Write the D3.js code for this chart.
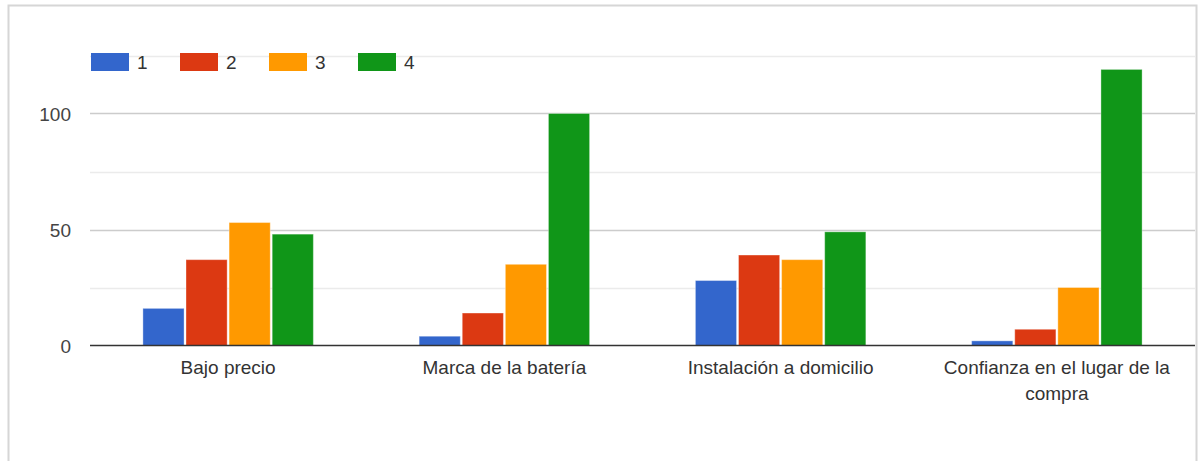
<!DOCTYPE html>
<html>
<head>
<meta charset="utf-8">
<script src="https://cdn.jsdelivr.net/npm/d3@7"></script>
<style>
  html, body { margin: 0; padding: 0; background: #fff; }
  svg { display: block; font-family: "Liberation Sans", Arial, sans-serif; }
</style>
</head>
<body>
<svg id="chart" width="1199" height="461"></svg>
<script>
// Categories and ranking counts (1 = least important, 4 = most important)
const categories = ["Bajo precio", "Marca de la batería", "Instalación a domicilio", "Confianza en el lugar de la compra"];
const seriesNames = ["1", "2", "3", "4"];
const series1 = [16, 4, 28, 2];
const series2 = [37, 14, 39, 7];
const series3 = [53, 35, 37, 25];
const series4 = [48, 100, 49, 119];
const colors = ["#3366cc", "#dc3912", "#ff9900", "#109618"];
const majorTicks = [0, 50, 100];
const minorTicks = [25, 75, 125];

const seriesValues = [series1, series2, series3, series4];
const rows = categories.map((c, i) => ({
  category: c,
  values: seriesNames.map((s, j) => ({ key: s, value: seriesValues[j][i], color: colors[j] }))
}));

const svg = d3.select("#chart");
const W = 1199, H = 461;
const plot = { left: 90, right: 1195, top: 55.5, bottom: 345.5 };

// Card frame (left, top, right edges)
svg.append("path")
  .attr("d", `M8.5,${H} V5.5 H1196.5 V${H}`)
  .attr("fill", "none")
  .attr("stroke", "#d6d6d6")
  .attr("stroke-width", 2);

const y = d3.scaleLinear().domain([0, 125]).range([plot.bottom, plot.top]);
const x0 = d3.scaleBand().domain(categories).range([plot.left, plot.right])
  .paddingInner(0.383).paddingOuter(0.1915);
const x1 = d3.scaleBand().domain(seriesNames).range([0, x0.bandwidth()])
  .paddingInner(0.045).paddingOuter(0);

// Gridlines
const grid = svg.append("g");
grid.selectAll("line.minor").data(minorTicks).join("line")
  .attr("class", "minor")
  .attr("x1", plot.left).attr("x2", plot.right)
  .attr("y1", d => Math.round(y(d)) + 0.5).attr("y2", d => Math.round(y(d)) + 0.5)
  .attr("stroke", "#ebebeb").attr("stroke-width", 1.5);
grid.selectAll("line.major").data(majorTicks.filter(d => d !== 0)).join("line")
  .attr("class", "major")
  .attr("x1", plot.left).attr("x2", plot.right)
  .attr("y1", d => Math.round(y(d)) + 0.5).attr("y2", d => Math.round(y(d)) + 0.5)
  .attr("stroke", "#cccccc").attr("stroke-width", 1.5);

// Y axis labels
const yAxis = d3.axisLeft(y).tickValues(majorTicks).tickSize(0).tickPadding(0);
const yg = svg.append("g").attr("transform", `translate(71,0)`).call(yAxis);
yg.select(".domain").remove();
yg.selectAll("text")
  .attr("font-size", 19)
  .attr("font-family", "Liberation Sans, Arial, sans-serif")
  .attr("fill", "#444")
  .attr("dy", "0.35em");

// Bars
const groups = svg.append("g").selectAll("g").data(rows).join("g")
  .attr("transform", d => `translate(${x0(d.category)},0)`);
groups.selectAll("rect").data(d => d.values).join("rect")
  .attr("x", d => x1(d.key))
  .attr("width", x1.bandwidth())
  .attr("y", d => y(d.value))
  .attr("height", d => y(0) - y(d.value))
  .attr("fill", d => d.color)
  .attr("stroke", "#ffffff")
  .attr("stroke-opacity", 0.35)
  .attr("stroke-width", 1);

// Baseline
svg.append("line")
  .attr("x1", plot.left).attr("x2", plot.right)
  .attr("y1", y(0)).attr("y2", y(0))
  .attr("stroke", "#333").attr("stroke-width", 1.5);

// Category labels, wrapped to a maximum width
const xAxis = d3.axisBottom(x0).tickSize(0).tickPadding(0);
const xg = svg.append("g").attr("transform", `translate(0,374)`).call(xAxis);
xg.select(".domain").remove();
xg.selectAll("text")
  .attr("font-size", 19)
  .attr("font-family", "Liberation Sans, Arial, sans-serif")
  .attr("fill", "#333")
  .attr("dy", 0)
  .each(function(d) {
    const t = d3.select(this);
    const words = d.split(" ");
    t.text(null);
    let line = [];
    let lineNo = 0;
    let tspan = t.append("tspan").attr("x", 0).attr("dy", 0);
    for (const w of words) {
      line.push(w);
      tspan.text(line.join(" "));
      if (tspan.node().getComputedTextLength() > 240 && line.length > 1) {
        line.pop();
        tspan.text(line.join(" "));
        line = [w];
        lineNo++;
        tspan = t.append("tspan").attr("x", 0).attr("dy", 26).text(w);
      }
    }
  });

// Legend
const legend = svg.append("g").selectAll("g").data(seriesNames).join("g")
  .attr("transform", (d, i) => `translate(${91 + i * 89},53)`);
legend.append("rect")
  .attr("width", 38).attr("height", 18)
  .attr("fill", (d, i) => colors[i]);
legend.append("text")
  .attr("x", 46).attr("y", 9)
  .attr("dy", "0.35em")
  .attr("font-size", 19)
  .attr("fill", "#333")
  .text(d => d);
</script>
</body>
</html>
